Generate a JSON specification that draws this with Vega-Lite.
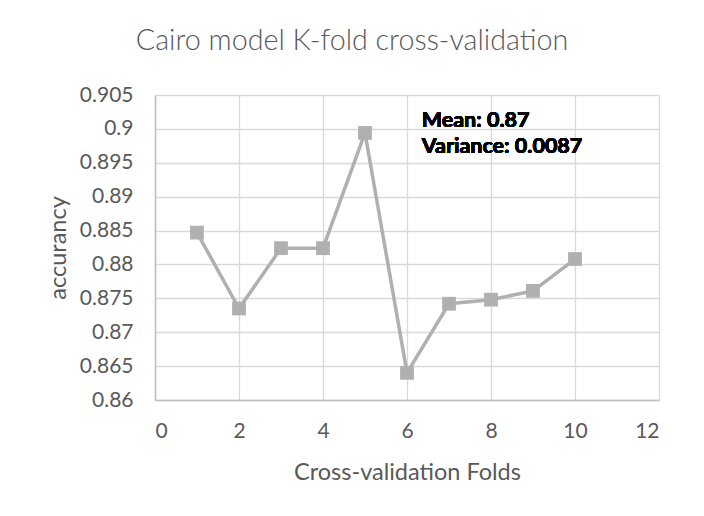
{
  "$schema": "https://vega.github.io/schema/vega-lite/v6.json",
  "width": 504,
  "height": 305,
  "autosize": {"type": "none"},
  "padding": {"left": 155, "top": 95, "right": 45, "bottom": 116},
  "background": "white",
  "title": {
    "text": "Cairo model K-fold cross-validation",
    "font": "Lato",
    "fontSize": 28.7,
    "fontWeight": 300,
    "color": "#595959",
    "anchor": "middle",
    "offset": 28,
    "dx": -55
  },
  "data": {
    "values": [
      {"fold": 1, "accuracy": 0.8847},
      {"fold": 2, "accuracy": 0.8735},
      {"fold": 3, "accuracy": 0.8824},
      {"fold": 4, "accuracy": 0.8824},
      {"fold": 5, "accuracy": 0.8994},
      {"fold": 6, "accuracy": 0.8640},
      {"fold": 7, "accuracy": 0.8742},
      {"fold": 8, "accuracy": 0.8748},
      {"fold": 9, "accuracy": 0.8761},
      {"fold": 10, "accuracy": 0.8808}
    ]
  },
  "encoding": {
    "x": {
      "field": "fold",
      "type": "quantitative",
      "scale": {"domain": [0, 12], "nice": false},
      "axis": {
        "title": "Cross-validation Folds",
        "values": [0, 2, 4, 6, 8, 10, 12],
        "labelPadding": 20.5,
        "titlePadding": 19
      }
    },
    "y": {
      "field": "accuracy",
      "type": "quantitative",
      "scale": {"domain": [0.86, 0.905], "nice": false, "zero": false},
      "axis": {
        "title": "accurancy",
        "values": [0.86, 0.865, 0.87, 0.875, 0.88, 0.885, 0.89, 0.895, 0.9, 0.905],
        "format": "~r",
        "labelPadding": 22,
        "titlePadding": 9
      }
    }
  },
  "layer": [
    {"mark": {"type": "line", "color": "#b0b0b0", "strokeWidth": 3.5}},
    {"mark": {"type": "point", "shape": "square", "filled": true, "color": "#b0b0b0", "size": 190, "opacity": 1}},
    {
      "mark": {
        "type": "text",
        "align": "left",
        "baseline": "alphabetic",
        "font": "Lato",
        "fontSize": 21.5,
        "fontWeight": "bold",
        "lineHeight": 26.5,
        "color": "#000000"
      },
      "encoding": {
        "x": {"datum": 6.35},
        "y": {"datum": 0.9003},
        "text": {"value": ["Mean: 0.87", "Variance: 0.0087"]}
      }
    }
  ],
  "config": {
    "view": {"stroke": null},
    "axis": {
      "grid": true,
      "gridColor": "#d9d9d9",
      "gridWidth": 1.3,
      "domainColor": "#bfbfbf",
      "domainWidth": 1.5,
      "ticks": false,
      "tickSize": 0,
      "labelFont": "Lato",
      "labelFontSize": 21,
      "labelColor": "#595959",
      "titleFont": "Lato",
      "titleFontSize": 23.5,
      "titleFontWeight": "normal",
      "titleColor": "#595959"
    }
  }
}
